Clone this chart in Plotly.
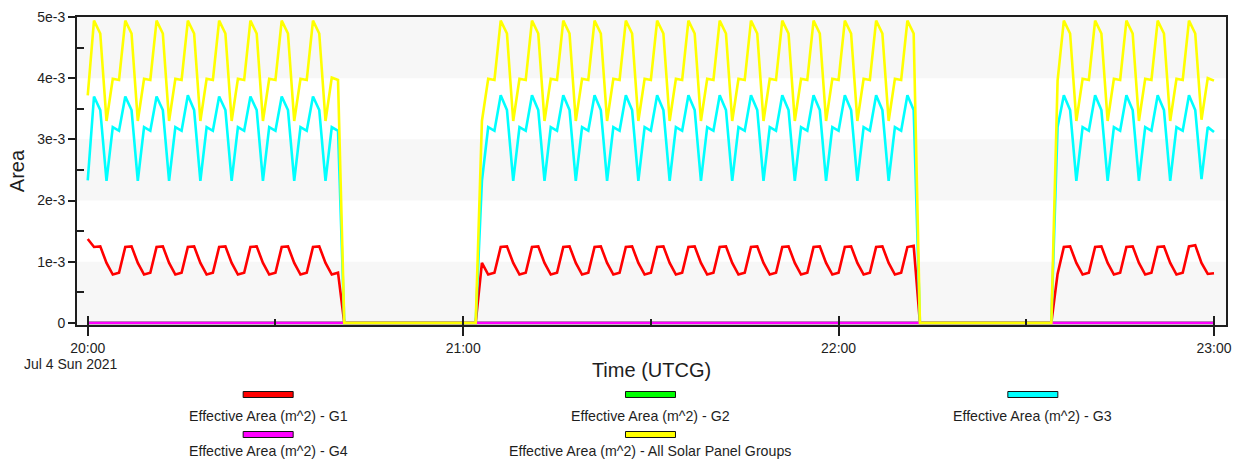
import pandas as pd
import plotly.graph_objects as go

# ---------------- data (one sample per minute, 20:00 .. 23:00 UTCG) ----------------
TIME_START = "2021-07-04 20:00"
N_SAMPLES = 181
times = pd.date_range(TIME_START, periods=N_SAMPLES, freq="min")

G1 = [
    1.37e-3,
    # 20:01 - 20:40
    1.24e-3, 1.25e-3, 0.98e-3, 0.79e-3, 0.82e-3,
    1.24e-3, 1.25e-3, 0.98e-3, 0.79e-3, 0.82e-3,
    1.24e-3, 1.25e-3, 0.98e-3, 0.79e-3, 0.82e-3,
    1.24e-3, 1.25e-3, 0.98e-3, 0.79e-3, 0.82e-3,
    1.24e-3, 1.25e-3, 0.98e-3, 0.79e-3, 0.82e-3,
    1.24e-3, 1.25e-3, 0.98e-3, 0.79e-3, 0.82e-3,
    1.24e-3, 1.25e-3, 0.98e-3, 0.79e-3, 0.82e-3,
    1.24e-3, 1.25e-3, 0.98e-3, 0.79e-3, 0.82e-3,
    # 20:41 - 21:02 (eclipse)
    0, 0, 0, 0, 0, 0, 0, 0, 0, 0, 0,
    0, 0, 0, 0, 0, 0, 0, 0, 0, 0, 0,
    # 21:03 - 21:05
    0.98e-3, 0.79e-3, 0.82e-3,
    # 21:06 - 22:10
    1.24e-3, 1.25e-3, 0.98e-3, 0.79e-3, 0.82e-3,
    1.24e-3, 1.25e-3, 0.98e-3, 0.79e-3, 0.82e-3,
    1.24e-3, 1.25e-3, 0.98e-3, 0.79e-3, 0.82e-3,
    1.24e-3, 1.25e-3, 0.98e-3, 0.79e-3, 0.82e-3,
    1.24e-3, 1.25e-3, 0.98e-3, 0.79e-3, 0.82e-3,
    1.24e-3, 1.25e-3, 0.98e-3, 0.79e-3, 0.82e-3,
    1.24e-3, 1.25e-3, 0.98e-3, 0.79e-3, 0.82e-3,
    1.24e-3, 1.25e-3, 0.98e-3, 0.79e-3, 0.82e-3,
    1.24e-3, 1.25e-3, 0.98e-3, 0.79e-3, 0.82e-3,
    1.24e-3, 1.25e-3, 0.98e-3, 0.79e-3, 0.82e-3,
    1.24e-3, 1.25e-3, 0.98e-3, 0.79e-3, 0.82e-3,
    1.24e-3, 1.25e-3, 0.98e-3, 0.79e-3, 0.82e-3,
    1.24e-3, 1.25e-3, 0.98e-3, 0.79e-3, 0.82e-3,
    # 22:11 - 22:12
    1.24e-3, 1.26e-3,
    # 22:13 - 22:34 (eclipse)
    0, 0, 0, 0, 0, 0, 0, 0, 0, 0, 0,
    0, 0, 0, 0, 0, 0, 0, 0, 0, 0, 0,
    # 22:35
    0.80e-3,
    # 22:36 - 23:00
    1.24e-3, 1.25e-3, 0.98e-3, 0.79e-3, 0.82e-3,
    1.24e-3, 1.25e-3, 0.98e-3, 0.79e-3, 0.82e-3,
    1.24e-3, 1.25e-3, 0.98e-3, 0.79e-3, 0.82e-3,
    1.24e-3, 1.25e-3, 0.98e-3, 0.79e-3, 0.82e-3,
    1.25e-3, 1.27e-3, 0.98e-3, 0.80e-3, 0.81e-3,
]

G3 = [
    2.33e-3,
    # 20:01 - 20:40
    3.70e-3, 3.48e-3, 2.32e-3, 3.20e-3, 3.14e-3,
    3.70e-3, 3.48e-3, 2.32e-3, 3.20e-3, 3.14e-3,
    3.70e-3, 3.48e-3, 2.32e-3, 3.20e-3, 3.14e-3,
    3.72e-3, 3.48e-3, 2.32e-3, 3.20e-3, 3.14e-3,
    3.70e-3, 3.48e-3, 2.32e-3, 3.20e-3, 3.14e-3,
    3.70e-3, 3.48e-3, 2.32e-3, 3.20e-3, 3.14e-3,
    3.70e-3, 3.48e-3, 2.32e-3, 3.20e-3, 3.14e-3,
    3.70e-3, 3.48e-3, 2.32e-3, 3.20e-3, 3.14e-3,
    # 20:41 - 21:02 (eclipse)
    0, 0, 0, 0, 0, 0, 0, 0, 0, 0, 0,
    0, 0, 0, 0, 0, 0, 0, 0, 0, 0, 0,
    # 21:03 - 21:05
    2.32e-3, 3.20e-3, 3.14e-3,
    # 21:06 - 22:10
    3.72e-3, 3.48e-3, 2.32e-3, 3.20e-3, 3.14e-3,
    3.72e-3, 3.48e-3, 2.32e-3, 3.20e-3, 3.14e-3,
    3.72e-3, 3.48e-3, 2.32e-3, 3.20e-3, 3.14e-3,
    3.72e-3, 3.48e-3, 2.32e-3, 3.20e-3, 3.14e-3,
    3.72e-3, 3.48e-3, 2.32e-3, 3.20e-3, 3.14e-3,
    3.72e-3, 3.48e-3, 2.32e-3, 3.20e-3, 3.14e-3,
    3.72e-3, 3.48e-3, 2.32e-3, 3.20e-3, 3.14e-3,
    3.72e-3, 3.48e-3, 2.32e-3, 3.20e-3, 3.14e-3,
    3.72e-3, 3.48e-3, 2.32e-3, 3.20e-3, 3.14e-3,
    3.72e-3, 3.48e-3, 2.32e-3, 3.20e-3, 3.14e-3,
    3.72e-3, 3.48e-3, 2.32e-3, 3.20e-3, 3.14e-3,
    3.72e-3, 3.48e-3, 2.32e-3, 3.20e-3, 3.14e-3,
    3.72e-3, 3.48e-3, 2.32e-3, 3.20e-3, 3.14e-3,
    # 22:11 - 22:12
    3.72e-3, 3.48e-3,
    # 22:13 - 22:34 (eclipse)
    0, 0, 0, 0, 0, 0, 0, 0, 0, 0, 0,
    0, 0, 0, 0, 0, 0, 0, 0, 0, 0, 0,
    # 22:35
    3.20e-3,
    # 22:36 - 23:00
    3.72e-3, 3.48e-3, 2.32e-3, 3.20e-3, 3.14e-3,
    3.72e-3, 3.48e-3, 2.32e-3, 3.20e-3, 3.14e-3,
    3.72e-3, 3.48e-3, 2.32e-3, 3.20e-3, 3.14e-3,
    3.72e-3, 3.48e-3, 2.32e-3, 3.20e-3, 3.14e-3,
    3.72e-3, 3.48e-3, 2.35e-3, 3.20e-3, 3.12e-3,
]

ALL_GROUPS = [
    3.72e-3,
    # 20:01 - 20:40
    4.94e-3, 4.73e-3, 3.30e-3, 3.99e-3, 3.97e-3,
    4.94e-3, 4.73e-3, 3.30e-3, 3.99e-3, 3.97e-3,
    4.94e-3, 4.73e-3, 3.30e-3, 3.99e-3, 3.97e-3,
    4.94e-3, 4.73e-3, 3.30e-3, 3.99e-3, 3.97e-3,
    4.94e-3, 4.73e-3, 3.30e-3, 3.99e-3, 3.97e-3,
    4.94e-3, 4.73e-3, 3.30e-3, 3.99e-3, 3.97e-3,
    4.94e-3, 4.73e-3, 3.30e-3, 3.99e-3, 3.97e-3,
    4.94e-3, 4.73e-3, 3.30e-3, 4.01e-3, 3.97e-3,
    # 20:41 - 21:02 (eclipse)
    0, 0, 0, 0, 0, 0, 0, 0, 0, 0, 0,
    0, 0, 0, 0, 0, 0, 0, 0, 0, 0, 0,
    # 21:03 - 21:05
    3.30e-3, 3.99e-3, 3.97e-3,
    # 21:06 - 22:10
    4.94e-3, 4.73e-3, 3.30e-3, 3.99e-3, 3.97e-3,
    4.94e-3, 4.73e-3, 3.30e-3, 3.99e-3, 3.97e-3,
    4.94e-3, 4.73e-3, 3.30e-3, 3.99e-3, 3.97e-3,
    4.94e-3, 4.73e-3, 3.30e-3, 3.99e-3, 3.97e-3,
    4.94e-3, 4.73e-3, 3.30e-3, 3.99e-3, 3.97e-3,
    4.94e-3, 4.73e-3, 3.30e-3, 3.99e-3, 3.97e-3,
    4.94e-3, 4.73e-3, 3.30e-3, 3.99e-3, 3.97e-3,
    4.94e-3, 4.73e-3, 3.30e-3, 3.99e-3, 3.97e-3,
    4.94e-3, 4.73e-3, 3.30e-3, 3.99e-3, 3.97e-3,
    4.94e-3, 4.73e-3, 3.30e-3, 3.99e-3, 3.97e-3,
    4.94e-3, 4.73e-3, 3.30e-3, 3.99e-3, 3.97e-3,
    4.94e-3, 4.73e-3, 3.30e-3, 3.99e-3, 3.97e-3,
    4.94e-3, 4.73e-3, 3.30e-3, 3.99e-3, 3.97e-3,
    # 22:11 - 22:12
    4.94e-3, 4.73e-3,
    # 22:13 - 22:34 (eclipse)
    0, 0, 0, 0, 0, 0, 0, 0, 0, 0, 0,
    0, 0, 0, 0, 0, 0, 0, 0, 0, 0, 0,
    # 22:35
    3.96e-3,
    # 22:36 - 23:00
    4.94e-3, 4.73e-3, 3.30e-3, 3.99e-3, 3.97e-3,
    4.94e-3, 4.73e-3, 3.30e-3, 3.99e-3, 3.97e-3,
    4.94e-3, 4.73e-3, 3.30e-3, 3.99e-3, 3.97e-3,
    4.94e-3, 4.73e-3, 3.30e-3, 3.99e-3, 3.97e-3,
    4.94e-3, 4.73e-3, 3.32e-3, 4.00e-3, 3.96e-3,
]

G2 = [
    0, 0, 0, 0, 0, 0, 0, 0, 0, 0, 0, 0, 0, 0, 0, 0, 0, 0, 0, 0,
    0, 0, 0, 0, 0, 0, 0, 0, 0, 0, 0, 0, 0, 0, 0, 0, 0, 0, 0, 0,
    0, 0, 0, 0, 0, 0, 0, 0, 0, 0, 0, 0, 0, 0, 0, 0, 0, 0, 0, 0,
    0, 0, 0, 0, 0, 0, 0, 0, 0, 0, 0, 0, 0, 0, 0, 0, 0, 0, 0, 0,
    0, 0, 0, 0, 0, 0, 0, 0, 0, 0, 0, 0, 0, 0, 0, 0, 0, 0, 0, 0,
    0, 0, 0, 0, 0, 0, 0, 0, 0, 0, 0, 0, 0, 0, 0, 0, 0, 0, 0, 0,
    0, 0, 0, 0, 0, 0, 0, 0, 0, 0, 0, 0, 0, 0, 0, 0, 0, 0, 0, 0,
    0, 0, 0, 0, 0, 0, 0, 0, 0, 0, 0, 0, 0, 0, 0, 0, 0, 0, 0, 0,
    0, 0, 0, 0, 0, 0, 0, 0, 0, 0, 0, 0, 0, 0, 0, 0, 0, 0, 0, 0,
    0,
]

G4 = [
    0, 0, 0, 0, 0, 0, 0, 0, 0, 0, 0, 0, 0, 0, 0, 0, 0, 0, 0, 0,
    0, 0, 0, 0, 0, 0, 0, 0, 0, 0, 0, 0, 0, 0, 0, 0, 0, 0, 0, 0,
    0, 0, 0, 0, 0, 0, 0, 0, 0, 0, 0, 0, 0, 0, 0, 0, 0, 0, 0, 0,
    0, 0, 0, 0, 0, 0, 0, 0, 0, 0, 0, 0, 0, 0, 0, 0, 0, 0, 0, 0,
    0, 0, 0, 0, 0, 0, 0, 0, 0, 0, 0, 0, 0, 0, 0, 0, 0, 0, 0, 0,
    0, 0, 0, 0, 0, 0, 0, 0, 0, 0, 0, 0, 0, 0, 0, 0, 0, 0, 0, 0,
    0, 0, 0, 0, 0, 0, 0, 0, 0, 0, 0, 0, 0, 0, 0, 0, 0, 0, 0, 0,
    0, 0, 0, 0, 0, 0, 0, 0, 0, 0, 0, 0, 0, 0, 0, 0, 0, 0, 0, 0,
    0, 0, 0, 0, 0, 0, 0, 0, 0, 0, 0, 0, 0, 0, 0, 0, 0, 0, 0, 0,
    0,
]

SERIES_NAMES = [
    "Effective Area (m^2) - G1",
    "Effective Area (m^2) - G2",
    "Effective Area (m^2) - G3",
    "Effective Area (m^2) - G4",
    "Effective Area (m^2) - All Solar Panel Groups",
]
SERIES_VALUES = [G1, G2, G3, G4, ALL_GROUPS]
SERIES_COLORS = ["#ff0000", "#00ff00", "#00ffff", "#ff00ff", "#ffff00"]

HOUR_TICKS = ["2021-07-04 20:00", "2021-07-04 21:00", "2021-07-04 22:00", "2021-07-04 23:00"]
HOUR_LABELS = ["20:00", "21:00", "22:00", "23:00"]
HALF_HOUR_TICKS = ["2021-07-04 20:30", "2021-07-04 21:30", "2021-07-04 22:30"]
DATE_LABEL = "Jul 4 Sun 2021"
X_RANGE = ["2021-07-04 19:58:17", "2021-07-04 23:01:55"]

Y_TICKS = [0, 1e-3, 2e-3, 3e-3, 4e-3, 5e-3]
Y_LABELS = ["0", "1e-3", "2e-3", "3e-3", "4e-3", "5e-3"]
Y_MINOR_TICKS = [0.5e-3, 1.5e-3, 2.5e-3, 3.5e-3, 4.5e-3]
Y_RANGE = [-0.035e-3, 5e-3]
GRAY_BANDS = [(-0.035e-3, 1e-3), (2e-3, 3e-3), (4e-3, 5e-3)]

for s in SERIES_VALUES:
    assert len(s) == N_SAMPLES, len(s)

# ---------------- figure ----------------
FONT = "Liberation Sans, Arial, sans-serif"
INK = "#1e1e1e"

fig = go.Figure()
for name, vals, col in zip(SERIES_NAMES, SERIES_VALUES, SERIES_COLORS):
    fig.add_trace(go.Scatter(
        x=times, y=vals, name=name, mode="lines",
        line=dict(color=col, width=2.6), showlegend=False,
    ))

# invisible helper trace so the overlay axis (inner half of major x ticks) is drawn
fig.add_trace(go.Scatter(x=[times[0]], y=[None], xaxis="x2", yaxis="y",
                         mode="lines", showlegend=False, hoverinfo="skip"))

shapes = []
for y0, y1 in GRAY_BANDS:
    shapes.append(dict(type="rect", xref="paper", yref="y", x0=0, x1=1, y0=y0, y1=y1,
                       fillcolor="#f7f7f7", line=dict(width=0), layer="below"))

# custom legend: colour swatch above the text, 3 columns
W_PLOT = 1148.0
H_PLOT = 308.0
col_px = [268, 650, 1032]
rect_row_py = [394.5, 434.5]
text_row_py = [415.5, 450.5]
positions = [(0, 0), (1, 0), (2, 0), (0, 1), (1, 1)]
annotations = []
for (c, r), name, col in zip(positions, SERIES_NAMES, SERIES_COLORS):
    cx = (col_px[c] - 77) / W_PLOT
    ry = (325 - rect_row_py[r]) / H_PLOT
    ty = (325 - text_row_py[r]) / H_PLOT
    shapes.append(dict(type="rect", xref="paper", yref="paper",
                       xsizemode="pixel", ysizemode="pixel", xanchor=cx, yanchor=ry,
                       x0=-25, x1=25, y0=-3, y1=3,
                       fillcolor=col, line=dict(color="#111111", width=1)))
    annotations.append(dict(text=name, xref="paper", yref="paper", x=cx, y=ty,
                            xanchor="center", yanchor="middle", showarrow=False,
                            font=dict(family=FONT, size=14.2, color=INK)))

annotations.append(dict(text=DATE_LABEL, xref="paper", yref="paper",
                        x=(71 - 77) / W_PLOT, y=(325 - 364) / H_PLOT,
                        xanchor="center", yanchor="middle", showarrow=False,
                        font=dict(family=FONT, size=14, color=INK)))

fig.update_layout(
    width=1240, height=464,
    margin=dict(l=77, r=14, t=17, b=139),
    paper_bgcolor="white", plot_bgcolor="white",
    font=dict(family=FONT, size=14, color=INK),
    shapes=shapes, annotations=annotations,
    xaxis=dict(
        type="date", range=X_RANGE,
        tickmode="array", tickvals=HOUR_TICKS, ticktext=HOUR_LABELS,
        ticks="outside", ticklen=9, tickwidth=1.5, tickcolor=INK,
        tickfont=dict(family=FONT, size=14, color=INK),
        showline=True, linecolor=INK, linewidth=2, mirror=True,
        showgrid=False, zeroline=False,
        minor=dict(tickmode="array", tickvals=HALF_HOUR_TICKS, ticks="inside",
                   ticklen=6, tickwidth=1.5, tickcolor=INK, showgrid=False),
        title=dict(text="Time (UTCG)", font=dict(family=FONT, size=20, color=INK), standoff=8),
        automargin=False,
    ),
    xaxis2=dict(
        type="date", range=X_RANGE, overlaying="x", anchor="y", side="bottom",
        tickmode="array", tickvals=HOUR_TICKS, showticklabels=False,
        ticks="inside", ticklen=9, tickwidth=1.5, tickcolor=INK,
        showline=False, showgrid=False, zeroline=False,
    ),
    yaxis=dict(
        range=Y_RANGE,
        tickmode="array", tickvals=Y_TICKS, ticktext=Y_LABELS,
        ticks="outside", ticklen=7, tickwidth=1.5, tickcolor=INK,
        tickfont=dict(family=FONT, size=14, color=INK),
        showline=True, linecolor=INK, linewidth=2, mirror=True,
        showgrid=False, zeroline=False,
        minor=dict(tickmode="array", tickvals=Y_MINOR_TICKS, ticks="inside",
                   ticklen=7, tickwidth=1.5, tickcolor=INK, showgrid=False),
        title=dict(text="Area", font=dict(family=FONT, size=20, color=INK), standoff=7),
        automargin=False,
    ),
)

# the page body has a default 8px margin; remove it so the figure sits at the window origin
fig.write_html("out.html", config={"displayModeBar": False},
               post_script="document.body.style.margin='0';")
